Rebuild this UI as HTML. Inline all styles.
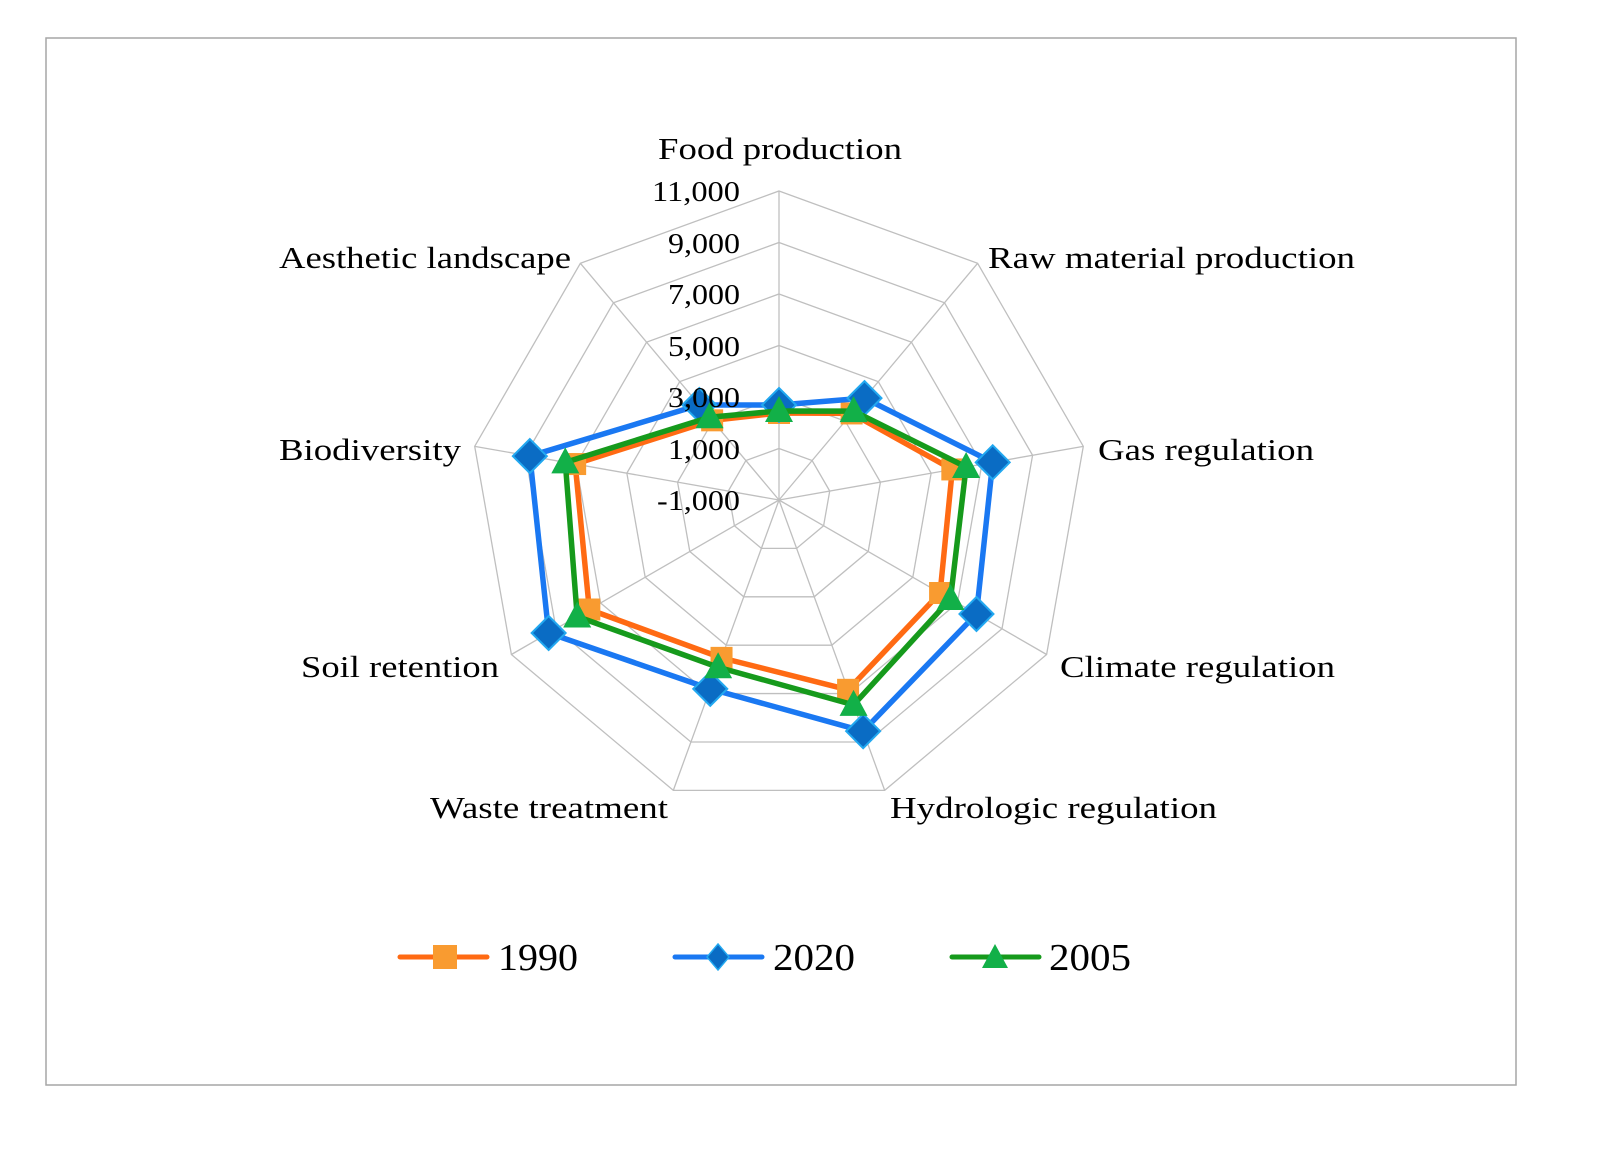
<!DOCTYPE html>
<html><head><meta charset="utf-8"><style>
html,body{margin:0;padding:0;background:#fff;}
svg{display:block;font-family:"Liberation Serif",serif;}
</style></head><body>
<svg id="s" width="1600" height="1156" xmlns="http://www.w3.org/2000/svg">
<rect x="46" y="38" width="1470" height="1047" fill="#fff" stroke="#a6a6a6" stroke-width="1.5"/>
<g id="grid"></g><g id="series"></g>
<g font-size="31" fill="#000" lengthAdjust="spacingAndGlyphs">
<text x="658" y="159" textLength="244" lengthAdjust="spacingAndGlyphs">Food production</text>
<text x="988" y="268" textLength="367" lengthAdjust="spacingAndGlyphs">Raw material production</text>
<text x="1098" y="460" textLength="216" lengthAdjust="spacingAndGlyphs">Gas regulation</text>
<text x="1060" y="677" textLength="275" lengthAdjust="spacingAndGlyphs">Climate regulation</text>
<text x="890" y="818" textLength="327" lengthAdjust="spacingAndGlyphs">Hydrologic regulation</text>
<text x="430" y="818" textLength="238" lengthAdjust="spacingAndGlyphs">Waste treatment</text>
<text x="301" y="677" textLength="198" lengthAdjust="spacingAndGlyphs">Soil retention</text>
<text x="279" y="460" textLength="182" lengthAdjust="spacingAndGlyphs">Biodiversity</text>
<text x="279" y="268" textLength="292" lengthAdjust="spacingAndGlyphs">Aesthetic landscape</text>
</g>
<g font-size="28" fill="#000">
<text x="657" y="510" textLength="83" lengthAdjust="spacingAndGlyphs">-1,000</text>
<text x="668" y="459" textLength="72" lengthAdjust="spacingAndGlyphs">1,000</text>
<text x="668" y="407" textLength="72" lengthAdjust="spacingAndGlyphs">3,000</text>
<text x="668" y="356" textLength="72" lengthAdjust="spacingAndGlyphs">5,000</text>
<text x="668" y="304" textLength="72" lengthAdjust="spacingAndGlyphs">7,000</text>
<text x="668" y="253" textLength="72" lengthAdjust="spacingAndGlyphs">9,000</text>
<text x="652" y="201" textLength="88" lengthAdjust="spacingAndGlyphs">11,000</text>
</g>
<g>
<line x1="400" y1="957" x2="487" y2="957" stroke="#FF6A13" stroke-width="5" stroke-linecap="round"/>
<rect x="433" y="945" width="24" height="24" fill="#F99B30"/>
<text x="498" y="970" font-size="38" textLength="80" lengthAdjust="spacingAndGlyphs">1990</text>
<line x1="675" y1="957" x2="762" y2="957" stroke="#1A78F2" stroke-width="5" stroke-linecap="round"/>
<polygon points="718,944 729,957 718,970 707,957" fill="#0A6CC4" stroke="#22A8F0" stroke-width="1.5"/>
<text x="773" y="970" font-size="38" textLength="82" lengthAdjust="spacingAndGlyphs">2020</text>
<line x1="952" y1="957" x2="1039" y2="957" stroke="#169A1C" stroke-width="5" stroke-linecap="round"/>
<polygon points="995,944 1008,968 982,968" fill="#12B048"/>
<text x="1049" y="970" font-size="38" textLength="82" lengthAdjust="spacingAndGlyphs">2005</text>
</g>
</svg>
<script>
var cx=779,cy=500,R=309,NS="http://www.w3.org/2000/svg";
function pt(i,r){var a=i*40*Math.PI/180;return [cx+r*Math.sin(a),cy-r*Math.cos(a)];}
function el(t,at,p){var e=document.createElementNS(NS,t);for(var k in at)e.setAttribute(k,at[k]);p.appendChild(e);return e;}
var g=document.getElementById('grid');
for(var k=1;k<=6;k++){var r=R*k/6,ps=[];for(var i=0;i<9;i++)ps.push(pt(i,r).join(','));el('polygon',{points:ps.join(' '),fill:'none',stroke:'#bfbfbf','stroke-width':1.3},g);}
for(var i=0;i<9;i++){var p=pt(i,R);el('line',{x1:cx,y1:cy,x2:p[0],y2:p[1],stroke:'#bfbfbf','stroke-width':1.3},g);}
var S=document.getElementById('series');
var data=[
 {r:[87,113,176,186,202,168,219,207,104],c:'#FF6A13',m:'sq'},
 {r:[95,133,217,228,246,201,266,253,124],c:'#1A78F2',m:'di'},
 {r:[89,116,190,198,218,178,233,217,108],c:'#169A1C',m:'tr'}];
data.forEach(function(d){var ps=[];for(var i=0;i<9;i++)ps.push(pt(i,d.r[i]));
 el('polygon',{points:ps.map(function(p){return p.join(',')}).join(' '),fill:'none',stroke:d.c,'stroke-width':5.5,'stroke-linejoin':'round'},S);
 ps.forEach(function(p){var x=p[0],y=p[1];
  if(d.m=='sq')el('rect',{x:x-11,y:y-11,width:22,height:22,fill:'#F99B30'},S);
  else if(d.m=='di')el('polygon',{points:(x)+','+(y-17)+' '+(x+17)+','+y+' '+x+','+(y+17)+' '+(x-17)+','+y,fill:'#0A6CC4',stroke:'#22A8F0','stroke-width':2},S);
  else el('polygon',{points:x+','+(y-15)+' '+(x+14)+','+(y+11)+' '+(x-14)+','+(y+11),fill:'#12B048'},S);
 });});
</script>
</body></html>
